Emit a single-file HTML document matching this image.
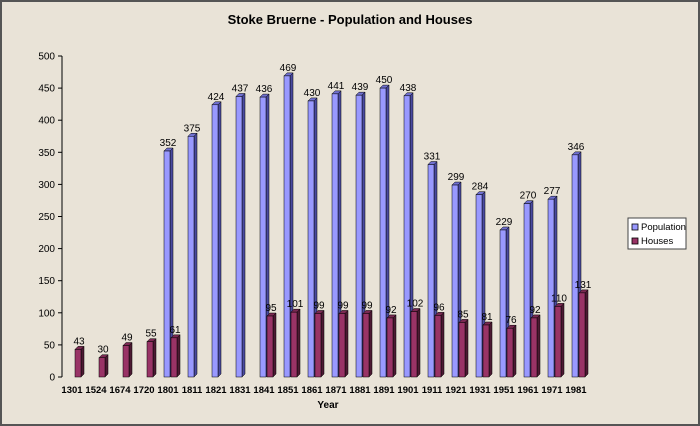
<!DOCTYPE html>
<html><head><meta charset="utf-8"><style>
html,body{margin:0;padding:0;}
body{width:700px;height:426px;overflow:hidden;background:#e9e3d7;}
svg{display:block;font-family:"Liberation Sans",sans-serif;}
</style></head><body>
<svg id="s" width="700" height="426" xmlns="http://www.w3.org/2000/svg">
<rect x="0" y="0" width="700" height="426" fill="#e9e3d7"/>
<rect x="1" y="1" width="698" height="424" fill="none" stroke="#555" stroke-width="2"/>
<text x="350" y="24" text-anchor="middle" font-size="13" font-weight="bold" fill="#000">Stoke Bruerne - Population and  Houses</text>
<text x="328" y="408" text-anchor="middle" font-size="10" font-weight="bold">Year</text>
<g id="g"></g>
<rect x="628" y="218" width="58" height="31" fill="#fff" stroke="#444"/>
<rect x="632" y="224" width="6" height="6" fill="#9999ff" stroke="#000" stroke-width="0.8"/>
<text x="641" y="230" font-size="9.5">Population</text>
<rect x="632" y="238" width="6" height="6" fill="#993366" stroke="#000" stroke-width="0.8"/>
<text x="641" y="244" font-size="9.5">Houses</text>
</svg>
<script>
var d=[[1301,null,43],[1524,null,30],[1674,null,49],[1720,null,55],[1801,352,61],[1811,375,null],[1821,424,null],[1831,437,null],[1841,436,95],[1851,469,101],[1861,430,99],[1871,441,99],[1881,439,99],[1891,450,92],[1901,438,102],[1911,331,96],[1921,299,85],[1931,284,81],[1951,229,76],[1961,270,92],[1971,277,110],[1981,346,131]];
var h='';function Y(v){return 377-v*0.642;}
h+='<line x1="62" y1="56" x2="62" y2="377" stroke="#000"/>';
for(var v=0;v<=500;v+=50){var y=Y(v);h+='<line x1="58" y1="'+y+'" x2="62" y2="'+y+'" stroke="#000"/><text x="55" y="'+(y+3.5)+'" text-anchor="end" font-size="10">'+v+'</text>';}
function bar(x,v,f,s,t){var y=Y(v),w=6,dp=3;
h+='<polygon points="'+(x+w)+','+y+' '+(x+w+dp)+','+(y-dp)+' '+(x+w+dp)+','+(377-dp)+' '+(x+w)+',377" fill="'+s+'" stroke="#000" stroke-width="0.5"/>';
h+='<polygon points="'+x+','+y+' '+(x+dp)+','+(y-dp)+' '+(x+w+dp)+','+(y-dp)+' '+(x+w)+','+y+'" fill="'+t+'" stroke="#000" stroke-width="0.5"/>';
h+='<rect x="'+x+'" y="'+y+'" width="'+w+'" height="'+(377-y)+'" fill="'+f+'" stroke="#000" stroke-width="0.5"/>';
h+='<text x="'+(x+4)+'" y="'+(y-5)+'" text-anchor="middle" font-size="10">'+v+'</text>';}
for(var i=0;i<d.length;i++){var c=72+24*i;
if(d[i][1]!=null)bar(c-4,d[i][1],'#9999ff','#4a4aa0','#7070d0');
if(d[i][2]!=null)bar(c+3,d[i][2],'#993366','#4d1a33','#7a2952');
h+='<text x="'+c+'" y="393" text-anchor="middle" font-size="9.5" font-weight="bold">'+d[i][0]+'</text>';}
document.getElementById('g').innerHTML=h;
</script>
</body></html>
